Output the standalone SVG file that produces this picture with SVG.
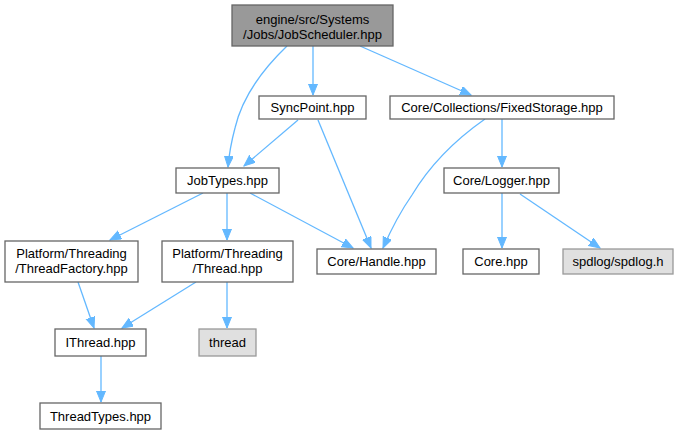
<svg xmlns="http://www.w3.org/2000/svg" width="680" height="435" viewBox="0 0 680 435">
<style>
.n rect{fill:#ffffff;stroke:#666666;stroke-width:1.3}
.n.root rect{fill:#999999;stroke:#666666}
.n.ext rect{fill:#e0e0e0;stroke:#999999}
.n text{font-family:"Liberation Sans",Arial,sans-serif;font-size:13px;fill:#000;text-anchor:middle}
.e path{fill:none;stroke:#63b8ff;stroke-width:1.3;marker-end:url(#ah)}
</style>
<defs>
<marker id="ah" markerUnits="userSpaceOnUse" markerWidth="12" markerHeight="10" refX="11" refY="4.5" orient="auto">
<path d="M0,0 L11,4.5 L0,9 z" fill="#63b8ff" stroke="#63b8ff" stroke-width="1"/>
</marker>
</defs>
<rect width="680" height="435" fill="#ffffff"/>
<g id="edges" class="e">
<path d="M287,46 C262,70 242,98 235,128 C231,143 229,155 228,167"/>
<path d="M313,46 L313,95"/>
<path d="M360,46 L471,95"/>
<path d="M298,120 L244,166"/>
<path d="M318,120 L371,248"/>
<path d="M485,119 C455,140 430,165 412,195 C398,215 390,232 383,248"/>
<path d="M502,119 L502,167"/>
<path d="M203,193 L110,240"/>
<path d="M227,193 L227,240"/>
<path d="M250,193 L353,248"/>
<path d="M502,193 L502,248"/>
<path d="M520,194 L600,248"/>
<path d="M78,282 L94,328"/>
<path d="M196,282 L122,328"/>
<path d="M227,282 L227,328"/>
<path d="M101,356 L101,402"/>
</g>
<g id="node_root" class="n root"><rect x="232" y="5" width="161" height="41"/><text x="312.5" y="24">engine/src/Systems</text><text x="312.5" y="39">/Jobs/JobScheduler.hpp</text></g>
<g id="node_syncpoint" class="n"><rect x="259" y="96" width="107" height="23"/><text x="312.5" y="112">SyncPoint.hpp</text></g>
<g id="node_fixedstorage" class="n"><rect x="390" y="96" width="224" height="23"/><text x="502" y="112">Core/Collections/FixedStorage.hpp</text></g>
<g id="node_jobtypes" class="n"><rect x="176" y="168" width="103" height="25"/><text x="227.5" y="185">JobTypes.hpp</text></g>
<g id="node_logger" class="n"><rect x="444" y="168" width="115" height="25"/><text x="501.5" y="185">Core/Logger.hpp</text></g>
<g id="node_threadfactory" class="n"><rect x="5" y="241" width="133" height="41"/><text x="71.5" y="258">Platform/Threading</text><text x="71.5" y="273">/ThreadFactory.hpp</text></g>
<g id="node_thread_hpp" class="n"><rect x="162" y="241" width="131" height="41"/><text x="227.5" y="258">Platform/Threading</text><text x="227.5" y="273">/Thread.hpp</text></g>
<g id="node_handle" class="n"><rect x="317" y="249" width="119" height="25"/><text x="376.5" y="266">Core/Handle.hpp</text></g>
<g id="node_core" class="n"><rect x="463" y="249" width="76" height="25"/><text x="501" y="266">Core.hpp</text></g>
<g id="node_spdlog" class="n ext"><rect x="563" y="249" width="110" height="25"/><text x="618" y="266">spdlog/spdlog.h</text></g>
<g id="node_ithread" class="n"><rect x="55" y="329" width="91" height="27"/><text x="100.5" y="347">IThread.hpp</text></g>
<g id="node_thread" class="n ext"><rect x="199" y="329" width="57" height="27"/><text x="227.5" y="347">thread</text></g>
<g id="node_threadtypes" class="n"><rect x="40" y="403" width="121" height="26"/><text x="100.5" y="421">ThreadTypes.hpp</text></g>
</svg>
